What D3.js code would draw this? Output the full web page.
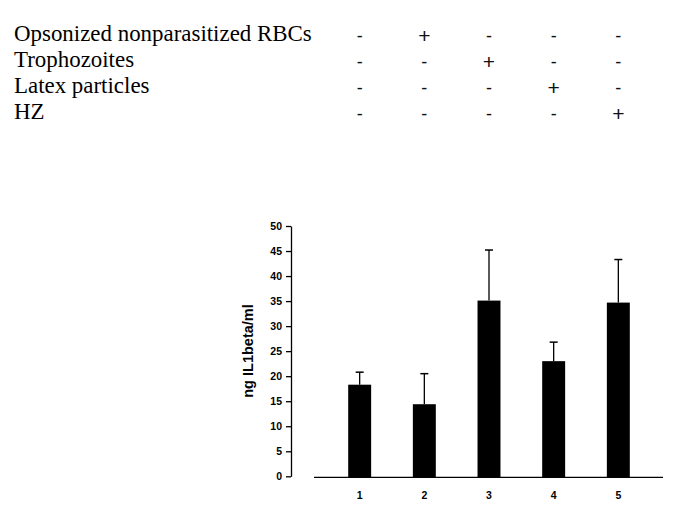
<!DOCTYPE html>
<html><head><meta charset="utf-8">
<script src="https://cdn.jsdelivr.net/npm/d3@7"></script>
<style>html,body{margin:0;padding:0;background:#fff;}svg{display:block;}</style>
</head><body>
<svg id="chart" width="685" height="527"></svg>
<script>
const categories = ["1", "2", "3", "4", "5"];
const values = [18.3, 14.4, 35.1, 23.0, 34.7];
const errors = [2.5, 6.1, 10.1, 3.8, 8.6];
const yTicks = [0, 5, 10, 15, 20, 25, 30, 35, 40, 45, 50];
const conditions = ["Opsonized nonparasitized RBCs", "Trophozoites", "Latex particles", "HZ"];
const signs = [
  ["-", "+", "-", "-", "-"],
  ["-", "-", "+", "-", "-"],
  ["-", "-", "-", "+", "-"],
  ["-", "-", "-", "-", "+"]
];
const yLabel = "ng IL1beta/ml";

const svg = d3.select("#chart");
const x = d3.scaleBand().domain(categories).range([327.5, 650.5]).paddingInner(0.645).paddingOuter(0.32);
const y = d3.scaleLinear().domain([0, 50]).range([476.3, 226]);

// condition table
const rowY = d3.scaleBand().domain(conditions).range([20, 124]);
conditions.forEach((c, i) => {
  const by = rowY(c) + 21;
  const t = svg.append("text").attr("x", 14).attr("y", by)
    .attr("font-family", "'Liberation Serif', 'Times New Roman', serif")
    .attr("font-size", 21).attr("fill", "#000").text(c);
  if (i === 0) {
    const w = t.node().getComputedTextLength();
    svg.attr("data-fs", 21 * 298 / w);
  }
  signs[i].forEach((s, j) => {
    svg.append("text").attr("x", x(categories[j]) + x.bandwidth() / 2)
      .attr("y", s === "+" ? by + 2 : by + 1)
      .attr("text-anchor", "middle")
      .attr("font-family", "'Liberation Sans', Arial, sans-serif")
      .attr("font-size", s === "+" ? 21 : 18).attr("fill", "#111").text(s);
  });
});
const fitFs = +svg.attr("data-fs");
svg.selectAll("text").filter(function () { return d3.select(this).attr("font-size") == 21 && d3.select(this).attr("x") == 14; })
  .attr("font-size", fitFs);

// y axis
const yAxis = d3.axisLeft(y).tickValues(yTicks).tickSize(5).tickPadding(4).tickSizeOuter(0);
const gy = svg.append("g").attr("transform", "translate(291,0)").call(yAxis);
gy.select(".domain").attr("stroke", "#000").attr("stroke-width", 1.3);
gy.selectAll(".tick line").attr("stroke", "#000").attr("stroke-width", 1.3);
gy.selectAll(".tick text").attr("font-family", "'Liberation Sans', Arial, sans-serif")
  .attr("font-weight", "bold").attr("font-size", 10.5).attr("fill", "#000");

// x baseline
svg.append("line").attr("x1", 314).attr("x2", 663).attr("y1", y(0) + 1).attr("y2", y(0) + 1)
  .attr("stroke", "#000").attr("stroke-width", 1.3);

// bars
svg.selectAll("rect.bar").data(values).join("rect").attr("class", "bar")
  .attr("x", (d, i) => x(categories[i])).attr("width", x.bandwidth())
  .attr("y", d => y(d)).attr("height", d => y(0) - y(d) + 1).attr("fill", "#000");

// error bars
const cap = 8;
values.forEach((v, i) => {
  const cx = x(categories[i]) + x.bandwidth() / 2;
  svg.append("line").attr("x1", cx).attr("x2", cx).attr("y1", y(v)).attr("y2", y(v + errors[i]))
    .attr("stroke", "#000").attr("stroke-width", 1.3);
  svg.append("line").attr("x1", cx - cap / 2).attr("x2", cx + cap / 2)
    .attr("y1", y(v + errors[i])).attr("y2", y(v + errors[i]))
    .attr("stroke", "#000").attr("stroke-width", 1.5);
});

// x labels
categories.forEach(c => {
  svg.append("text").attr("x", x(c) + x.bandwidth() / 2).attr("y", 498.5)
    .attr("text-anchor", "middle").attr("font-family", "'Liberation Sans', Arial, sans-serif")
    .attr("font-weight", "bold").attr("font-size", 10.5).attr("fill", "#000").text(c);
});

// y label
svg.append("text").attr("transform", "translate(253,351) rotate(-90)")
  .attr("text-anchor", "middle").attr("font-family", "'Liberation Sans', Arial, sans-serif")
  .attr("font-weight", "bold").attr("font-size", 14.5).attr("fill", "#000").text(yLabel);
</script>
</body></html>
